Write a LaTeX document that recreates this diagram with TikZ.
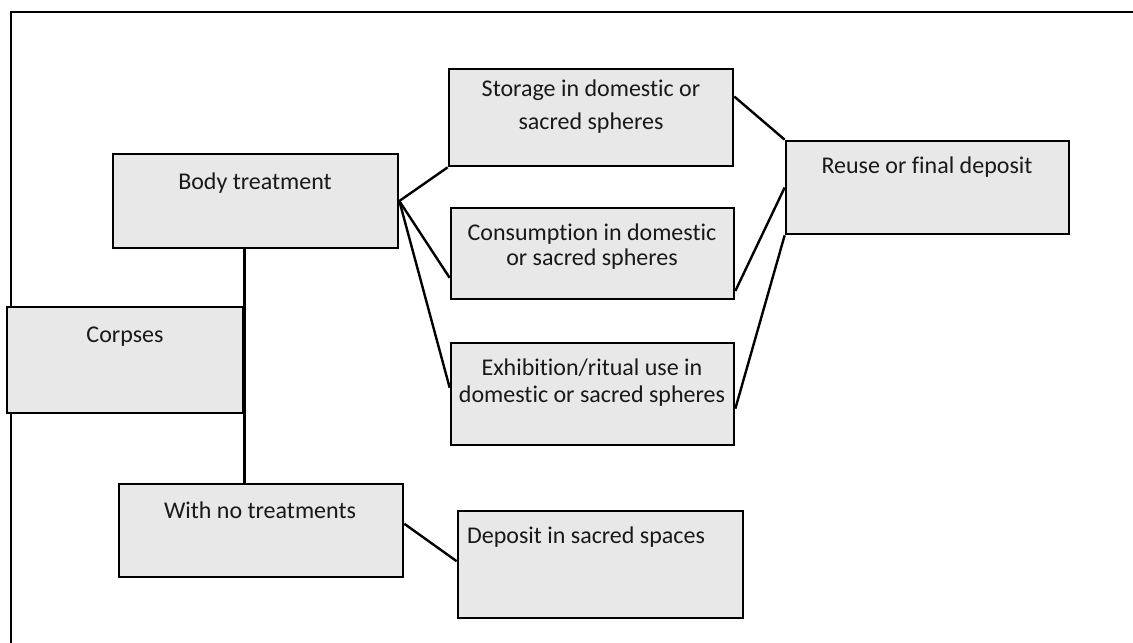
\documentclass[tikz,border=0pt]{standalone}
\usepackage{fontspec}
\setmainfont{Carlito}[Ligatures=NoCommon]
\usetikzlibrary{fit,calc}
\definecolor{boxgrey}{HTML}{E8E8E8}
\tikzset{
  box/.style={draw=black, line width=2pt, fill=boxgrey, inner sep=0pt},
  txt/.style={font=\fontsize{18}{21}\selectfont, inner sep=0pt, anchor=base, text=black!90},
  conn/.style={draw=black, line width=1.8pt},
}
\begin{document}
\begin{tikzpicture}[x=0.75pt,y=-0.75pt]
\useasboundingbox (0,0) rectangle (1133,643);
% frame
\draw[line width=1.9pt] (11,650) -- (11,12) -- (1140,12);
% boxes
\node[box, fit={(113,154) (398,248)}] (bt) {};
\node[box, fit={(449,69) (733,166)}] (st) {};
\node[box, fit={(451,208) (734,299)}] (cs) {};
\node[box, fit={(451,343) (734,445)}] (ex) {};
\node[box, fit={(786,141) (1069,234)}] (re) {};
\node[box, fit={(7,307) (243,413)}] (cp) {};
\node[box, fit={(119,484) (403,577)}] (wn) {};
\node[box, fit={(458,511) (743,618)}] (dp) {};
% texts
\node[txt] (btt) at (255,189) {Body treatment};
\node[txt] (stt1) at (591,96) {Storage in domestic or};
\node[txt] (stt2) at (591,129) {sacred spheres};
\node[txt] (cst1) at (592,240) {Consumption in domestic};
\node[txt] (cst2) at (592,265) {or sacred spheres};
\node[txt] (ext1) at (592,375) {Exhibition/ritual use in};
\node[txt] (ext2) at (592,402) {domestic or sacred spheres};
\node[txt] (ret) at (927,173) {Reuse or final deposit};
\node[txt] (cpt) at (125,342) {Corpses};
\node[txt] (wnt) at (260,518) {With no treatments};
\node[txt] (dpt) at (586,543) {Deposit in sacred spaces};
% connectors
\draw[conn] (bt.east) -- (st.south west);
\draw[conn] (bt.east) -- ($(cs.north west)!0.76!(cs.south west)$);
\draw[conn] (bt.east) -- ($(ex.north west)!0.44!(ex.south west)$);
\draw[conn] ($(st.north east)!0.29!(st.south east)$) -- (re.north west);
\draw[conn] ($(cs.north east)!0.9!(cs.south east)$) -- (re.west);
\draw[conn] ($(ex.north east)!0.64!(ex.south east)$) -- (re.south west);
\draw[conn] (cp.east |- bt.south) -- (cp.east |- wn.north);
\draw[conn] ($(wn.north east)!0.43!(wn.south east)$) -- ($(dp.north west)!0.47!(dp.south west)$);
\end{tikzpicture}
\end{document}
